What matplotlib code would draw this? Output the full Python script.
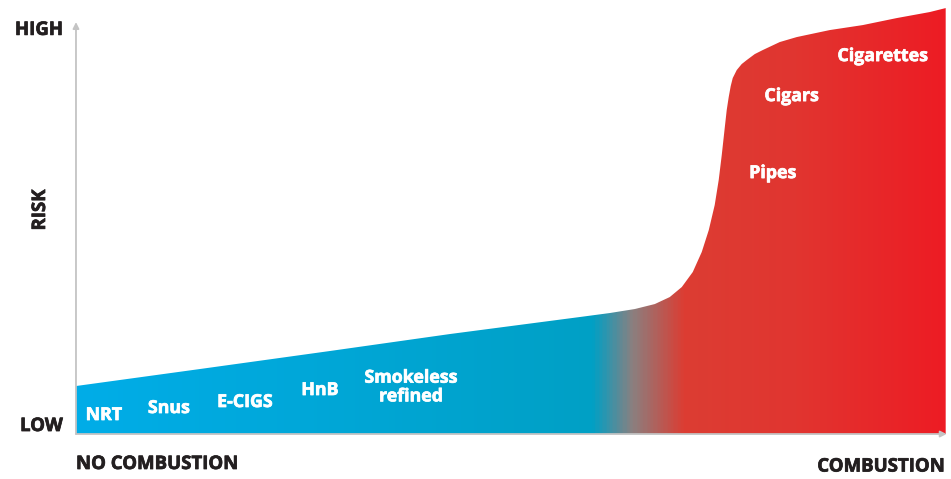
import numpy as np
import matplotlib
matplotlib.use('Agg')
import matplotlib.pyplot as plt
import matplotlib.patheffects as pe
from matplotlib.colors import LinearSegmentedColormap

plt.rcParams['font.family'] = ['Open Sans', 'DejaVu Sans']

# risk curve (x = position from no combustion to combustion, y = risk)
curve_x = [0, 14.24, 29.16, 42.94, 57.86, 61.31, 64.18, 66.48, 68.20, 69.58,
           70.84, 71.87, 72.68, 73.36, 73.82, 74.17, 74.51, 74.74, 74.97, 75.20,
           75.43, 75.89, 76.46, 77.04, 77.96, 78.87, 80.83, 82.78, 86.57, 90.36,
           94.26, 98.05, 99.89]
curve_y = [11.65, 15.78, 20.15, 24.27, 28.40, 29.37, 30.34, 31.55, 33.25, 35.68,
           39.32, 44.17, 49.51, 55.58, 61.65, 67.72, 74.27, 78.64, 81.80, 84.47,
           86.41, 88.35, 89.81, 90.78, 92.23, 93.20, 95.15, 96.36, 98.06, 99.27,
           100.97, 102.43, 103.40]

# product labels
products = ['NRT', 'Snus', 'E-CIGS', 'HnB', 'Smokeless\nrefined',
            'Pipes', 'Cigars', 'Cigarettes']
prod_x = [3.21, 10.68, 19.40, 28.01, 38.46, 80.02, 82.20, 92.65]
prod_y = [4.61, 6.31, 7.77, 10.68, 11.41, 63.35, 82.04, 91.75]

# gradient stops along x
grad_pos = [0.0, 0.595, 0.64, 0.70, 0.83, 1.0]
grad_col = ['#00ade8', '#00a0c5', '#8a8080', '#dc3d33', '#e13530', '#ed1c24']

dark = '#231f20'
axis_col = '#c4c4c4'

fig = plt.figure(figsize=(9.51, 4.79), dpi=100)
ax = fig.add_axes([0.0799, 0.0939, 0.9201, 0.903])
ax.set_xlim(0, 100.5)
ax.set_ylim(0, 105)
ax.axis('off')

# gradient fill clipped to area under the curve
poly = ax.fill_between(curve_x, curve_y, 0, color='none', lw=0)
cmap = LinearSegmentedColormap.from_list('risk', list(zip(grad_pos, grad_col)))
grad = np.linspace(0, 1, 600).reshape(1, -1)
im = ax.imshow(grad, cmap=cmap, aspect='auto', extent=[0, curve_x[-1], 0, 105],
               origin='lower', interpolation='bilinear')
path = poly.get_paths()[0]
im.set_clip_path(path, transform=ax.transData)

# axes arrows
ax.annotate('', xy=(0, 100), xytext=(0, 0), annotation_clip=False,
            arrowprops=dict(arrowstyle='-|>', color=axis_col, lw=1.3,
                            mutation_scale=9, shrinkA=0, shrinkB=0))
ax.annotate('', xy=(100, 0), xytext=(0, 0), annotation_clip=False,
            arrowprops=dict(arrowstyle='-|>', color=axis_col, lw=1.3,
                            mutation_scale=9, shrinkA=0, shrinkB=0))

# slightly heavier lettering
white_fx = [pe.withStroke(linewidth=0.5, foreground='white')]
dark_fx = [pe.withStroke(linewidth=0.5, foreground=dark)]

for name, px, py in zip(products, prod_x, prod_y):
    ax.text(px, py, name, color='white', fontsize=12.8, fontweight='bold',
            ha='center', va='center', linespacing=1.05, path_effects=white_fx)

kw = dict(color=dark, fontsize=13.4, fontweight='bold', clip_on=False,
          path_effects=dark_fx)
ax.text(-1.5, 98.1, 'HIGH', ha='right', va='center', **kw)
ax.text(-1.5, 1.94, 'LOW', ha='right', va='center', **kw)
ax.text(-4.13, 54.4, 'RISK', ha='center', va='center', rotation=90, **kw)
ax.text(0, -7.28, 'NO COMBUSTION', ha='left', va='center', **kw)
ax.text(99.8, -7.9, 'COMBUSTION', ha='right', va='center', **kw)

fig.savefig('out.png', dpi=100)
